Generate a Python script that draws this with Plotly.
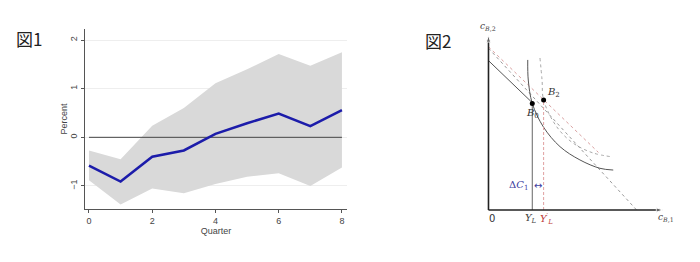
import plotly.graph_objects as go

# ---------------- Figure 1 data (impulse response) ----------------
quarters = [0, 1, 2, 3, 4, 5, 6, 7, 8]
irf = [-0.58, -0.91, -0.40, -0.27, 0.07, 0.29, 0.49, 0.23, 0.56]
upper = [-0.27, -0.45, 0.24, 0.60, 1.11, 1.40, 1.71, 1.47, 1.75]
lower = [-0.88, -1.38, -1.05, -1.15, -0.96, -0.81, -0.74, -1.00, -0.62]
x_ticks = [0, 2, 4, 6, 8]
y_ticks = [-1, 0, 1, 2]
zero_x = [0, 8]
zero_y = [0, 0]

# ---------------- Figure 2 data (diagram, arbitrary units) ----------------
budget_x = [0.0, 2.51]
budget_y = [8.56, 6.15]
gray_dash_x = [0.0, 8.49]
gray_dash_y = [9.27, 0.0]
pink_dash_x = [0.0, 6.30]
pink_dash_y = [9.35, 3.30]
ic_x = [2.25, 2.28, 2.51, 3.14, 4.10, 5.24, 6.39, 7.15]
ic_y = [8.60, 7.45, 6.11, 4.77, 3.63, 2.87, 2.39, 2.29]
ic2_x = [2.95, 3.07, 3.16, 3.91, 4.84, 5.99, 7.13]
ic2_y = [8.71, 7.45, 6.30, 4.77, 3.84, 3.27, 3.04]
yl_x = [2.51, 2.51]
yl_y = [0.0, 6.11]
yl2_x = [3.16, 3.16]
yl2_y = [0.0, 6.30]
pts_x = [2.51, 3.16]
pts_y = [6.11, 6.30]
vaxis_x = [0.0, 0.0]
vaxis_y = [0.0, 10.0]
haxis_x = [0.0, 10.0]
haxis_y = [0.0, 0.0]

W, H = 700, 262

def px(x):
    return x / W

def py(y):
    return 1 - y / H

fig = go.Figure()

# Fig 1 traces
fig.add_trace(go.Scatter(x=quarters, y=lower, mode="lines", line=dict(width=0, color="#d9d9d9"),
                         xaxis="x", yaxis="y", hoverinfo="skip"))
fig.add_trace(go.Scatter(x=quarters, y=upper, mode="lines", line=dict(width=0, color="#d9d9d9"),
                         fill="tonexty", fillcolor="#d9d9d9", xaxis="x", yaxis="y", hoverinfo="skip"))
fig.add_trace(go.Scatter(x=zero_x, y=zero_y, mode="lines", line=dict(width=1, color="#444444"),
                         xaxis="x", yaxis="y"))
fig.add_trace(go.Scatter(x=quarters, y=irf, mode="lines", line=dict(width=2.5, color="#1c1caa"),
                         xaxis="x", yaxis="y"))

# Fig 2 traces
fig.add_trace(go.Scatter(x=gray_dash_x, y=gray_dash_y, mode="lines",
                         line=dict(width=1, color="#9a9a9a", dash="3px,3px"), xaxis="x2", yaxis="y2"))
fig.add_trace(go.Scatter(x=pink_dash_x, y=pink_dash_y, mode="lines",
                         line=dict(width=1, color="#d9a0a0", dash="3px,3px"), xaxis="x2", yaxis="y2"))
fig.add_trace(go.Scatter(x=budget_x, y=budget_y, mode="lines", line=dict(width=1, color="#555555"),
                         xaxis="x2", yaxis="y2"))
fig.add_trace(go.Scatter(x=ic_x, y=ic_y, mode="lines", line=dict(width=1, color="#555555", shape="spline"),
                         xaxis="x2", yaxis="y2"))
fig.add_trace(go.Scatter(x=ic2_x, y=ic2_y, mode="lines",
                         line=dict(width=1, color="#a8a8a8", dash="3px,3px", shape="spline"),
                         xaxis="x2", yaxis="y2"))
fig.add_trace(go.Scatter(x=yl_x, y=yl_y, mode="lines", line=dict(width=1, color="#666666"),
                         xaxis="x2", yaxis="y2"))
fig.add_trace(go.Scatter(x=yl2_x, y=yl2_y, mode="lines",
                         line=dict(width=1, color="#e0a0a0", dash="3px,2px"), xaxis="x2", yaxis="y2"))
fig.add_trace(go.Scatter(x=pts_x, y=pts_y, mode="markers", marker=dict(size=5, color="black"),
                         xaxis="x2", yaxis="y2"))
# axes with arrowheads
for ax_x, ax_y in ((vaxis_x, vaxis_y), (haxis_x, haxis_y)):
    fig.add_trace(go.Scatter(x=ax_x, y=ax_y, mode="lines+markers",
                             line=dict(width=1.6, color="#222"),
                             marker=dict(symbol="arrow", size=[0, 7], angleref="previous", color="#222"),
                             xaxis="x2", yaxis="y2"))

serif = "DejaVu Serif"
ann = []
# CJK labels
ann.append(dict(text="図1", x=px(29), y=py(39), xref="paper", yref="paper", showarrow=False,
                xanchor="center", yanchor="middle",
                font=dict(family="Noto Sans CJK JP", size=17, color="#222")))
ann.append(dict(text="図2", x=px(438), y=py(40), xref="paper", yref="paper", showarrow=False,
                xanchor="center", yanchor="middle",
                font=dict(family="Noto Sans CJK JP", size=17, color="#222")))
lab = dict(xref="x2", yref="y2", showarrow=False)
ann.append(dict(text="<i>c</i><sub><i>B</i>,2</sub>", x=-0.03, y=10.5, font=dict(family=serif, size=9, color="#444"), **lab))
ann.append(dict(text="<i>c</i><sub><i>B</i>,1</sub>", x=10.15, y=-0.42, font=dict(family=serif, size=9, color="#444"), **lab))
ann.append(dict(text="0", x=0.2, y=-0.48, font=dict(family="DejaVu Sans", size=10, color="#333"), **lab))
ann.append(dict(text="<i>Y</i><sub><i>L</i></sub>", x=2.45, y=-0.5, font=dict(family=serif, size=10, color="#444"), **lab))
ann.append(dict(text="<i>Y</i><sup>′</sup><sub><i>L</i></sub>", x=3.3, y=-0.52, font=dict(family=serif, size=10, color="#c04040"), **lab))
ann.append(dict(text="<i>B</i><sub>2</sub>", x=3.72, y=6.75, font=dict(family=serif, size=10, color="#333"), **lab))
ann.append(dict(text="<i>B</i><sub>0</sub>", x=2.5, y=5.55, font=dict(family=serif, size=10, color="#333"), **lab))
ann.append(dict(text="Δ<i>C</i><sub>1</sub>", x=2.4, y=1.4, xanchor="right",
                font=dict(family=serif, size=10, color="#4040a0"), **lab))
ann.append(dict(text="↔", x=2.84, y=1.42, font=dict(family="DejaVu Sans", size=10, color="#4040a0"), **lab))

fig.update_layout(
    width=W, height=H,
    margin=dict(l=0, r=0, t=0, b=0),
    paper_bgcolor="white", plot_bgcolor="white",
    showlegend=False,
    font=dict(family="Liberation Sans, Arial", size=9, color="#444"),
    xaxis=dict(domain=[px(85), px(347)], range=[-0.126, 8.16], tickvals=x_ticks,
               ticks="outside", ticklen=3, tickcolor="#555", showline=True, linecolor="#555",
               linewidth=1, showgrid=False, zeroline=False, anchor="y",
               tickfont=dict(size=9, color="#444"),
               title=dict(text="Quarter", font=dict(size=9, color="#444"), standoff=0)),
    yaxis=dict(domain=[py(209), py(29)], range=[-1.473, 2.226], tickvals=y_ticks, tickangle=-90,
               ticks="outside", ticklen=3, tickcolor="#555", showline=True, linecolor="#555",
               linewidth=1, showgrid=True, gridcolor="#eeeeee", gridwidth=1, zeroline=False, anchor="x",
               tickfont=dict(size=9, color="#444"),
               title=dict(text="Percent", font=dict(size=9, color="#444"), standoff=0)),
    xaxis2=dict(domain=[px(470), px(690)], range=[-1.06, 11.55], visible=False, anchor="y2"),
    yaxis2=dict(domain=[py(240), py(20)], range=[-1.719, 10.888], visible=False, anchor="x2"),
    annotations=ann,
)

fig.write_html("out.html")
